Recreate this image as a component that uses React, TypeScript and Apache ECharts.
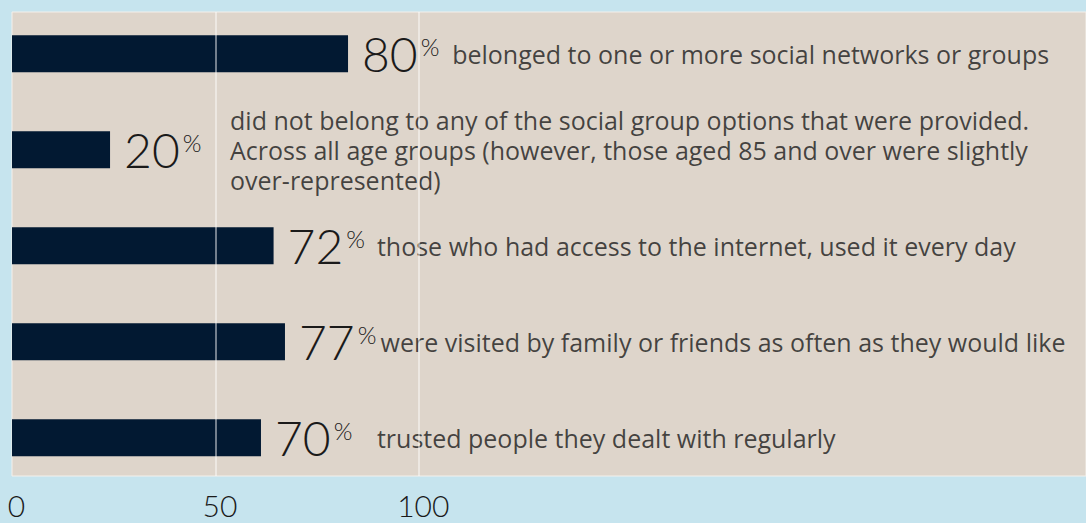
import React, { useEffect, useRef } from "react";
import * as echarts from "echarts";

// ---- data ----
const categories = [
  "Social networks",
  "No social group",
  "Internet every day",
  "Visited by family/friends",
  "Trusted people",
];
const barValues = [82.6, 24.1, 64.3, 67.1, 61.2];
const percentLabels = ["80", "20", "72", "77", "70"];
const descriptions = [
  "belonged to one or more social networks or groups",
  "did not belong to any of the social group options that were provided.\nAcross all age groups (however, those aged 85 and over were slightly\nover-represented)",
  "those who had access to the internet, used it every day",
  "were visited by family or friends as often as they would like",
  "trusted people they dealt with regularly",
];
const tickLabels = [0, 50, 100];
const gridLineValues = [50, 100];

// ---- layout (axis units where the description text starts) ----
const descAnchor = [108.2, 53.6, 89.7, 90.6, 89.7];
const AXIS_MAX = 264;

const NUM_FONT = "Lato, 'Open Sans', sans-serif";
const DESC_FONT = "'Open Sans', 'Noto Sans', sans-serif";
const TEXT = "#1a1a1a";

export default function App() {
  const ref = useRef<HTMLDivElement>(null);
  useEffect(() => {
    document.body.style.margin = "0";
    if (!ref.current) return;
    const chart = echarts.init(ref.current, undefined, { renderer: "svg" });
    chart.setOption({
      animation: false,
      backgroundColor: "#c6e4ee",
      textStyle: { fontFamily: DESC_FONT },
      grid: [
        {
          left: 12,
          right: 0,
          top: 12,
          bottom: 47,
          show: true,
          backgroundColor: "#ded5cb",
          borderColor: "#f4f0eb",
          borderWidth: 1,
          containLabel: false,
        },
        { left: 12, right: 0, top: 5.8, height: 480, containLabel: false },
      ],
      xAxis: [
        {
          gridIndex: 0,
          type: "value",
          min: 0,
          max: AXIS_MAX,
          axisLine: { show: false },
          axisTick: { show: false },
          splitLine: { show: false },
          axisLabel: {
            customValues: tickLabels,
            fontSize: 30,
            color: TEXT,
            fontFamily: NUM_FONT,
            fontWeight: 300,
            margin: 14,
            padding: [0, 0, 0, 9],
          },
        },
        {
          gridIndex: 1,
          type: "value",
          min: 0,
          max: AXIS_MAX,
          show: false,
        },
      ],
      yAxis: [
        { gridIndex: 0, type: "category", data: categories, inverse: true, show: false },
        { gridIndex: 1, type: "category", data: categories, inverse: true, show: false },
      ],
      series: [
        {
          type: "bar",
          xAxisIndex: 1,
          yAxisIndex: 1,
          data: barValues,
          barWidth: 37,
          itemStyle: { color: "#021932" },
          label: {
            show: true,
            position: "right",
            distance: 14,
            formatter: (p: any) => `{num|${percentLabels[p.dataIndex]}}{pct|%}`,
            rich: {
              num: {
                fontSize: 48,
                lineHeight: 48,
                fontFamily: NUM_FONT,
                fontWeight: 300,
                color: TEXT,
                verticalAlign: "middle",
              },
              pct: {
                fontSize: 24,
                lineHeight: 24,
                fontFamily: NUM_FONT,
                fontWeight: 300,
                color: TEXT,
                verticalAlign: "top",
                padding: [5, 0, 0, 3],
              },
            },
          },
        },
        {
          type: "scatter",
          xAxisIndex: 1,
          yAxisIndex: 1,
          symbolSize: 0,
          silent: true,
          data: descriptions.map((_, i) => [descAnchor[i], i]),
          label: {
            show: true,
            position: "right",
            distance: 0,
            formatter: (p: any) => descriptions[p.dataIndex],
            fontSize: 25,
            lineHeight: 30,
            fontFamily: DESC_FONT,
            color: TEXT,
            align: "left",
            verticalAlign: "middle",
          },
        },
        {
          type: "line",
          xAxisIndex: 0,
          yAxisIndex: 0,
          data: [],
          silent: true,
          z: 5,
          markLine: {
            silent: true,
            symbol: "none",
            label: { show: false },
            lineStyle: { color: "rgba(255,255,255,0.6)", width: 1.5, type: "solid" },
            data: gridLineValues.map((v) => ({ xAxis: v })),
          },
        },
      ],
    });
    return () => chart.dispose();
  }, []);
  return <div ref={ref} style={{ width: 1086, height: 523 }} />;
}
